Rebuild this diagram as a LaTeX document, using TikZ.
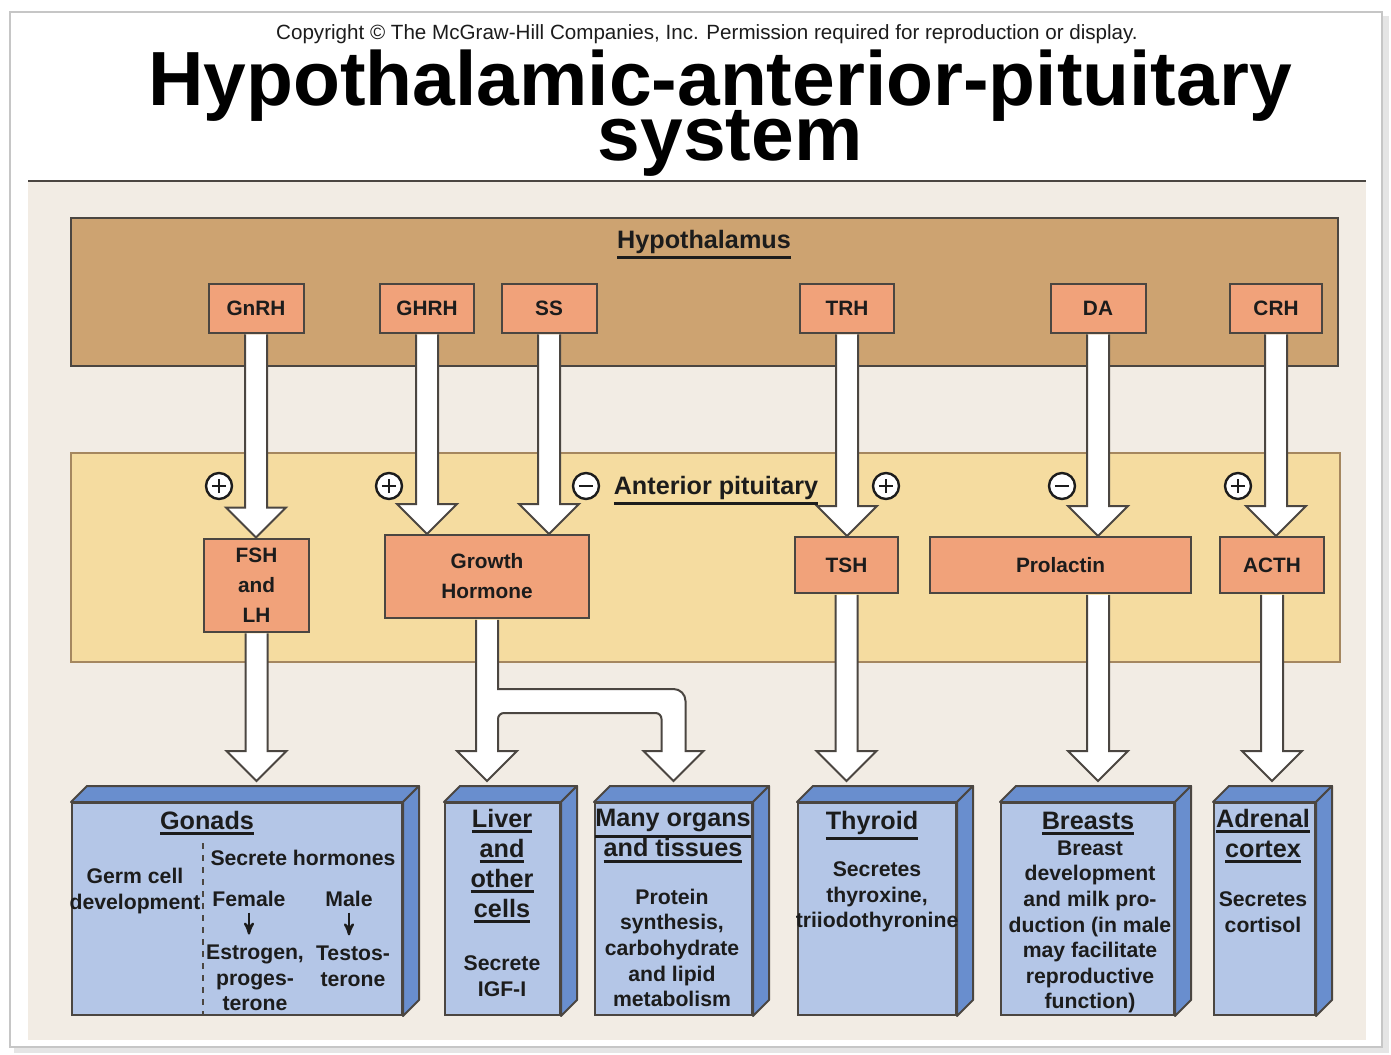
\documentclass[tikz,border=0pt]{standalone}
\usepackage{fontspec}
\setmainfont{Liberation Sans}
\usetikzlibrary{arrows,calc}
\definecolor{hypo}{RGB}{205,163,113}
\definecolor{pitu}{RGB}{245,220,160}
\definecolor{pitul}{RGB}{165,135,95}
\definecolor{paper}{RGB}{242,236,228}
\definecolor{salmon}{RGB}{241,162,122}
\definecolor{bluef}{RGB}{180,198,231}
\definecolor{blues}{RGB}{105,142,206}
\definecolor{linec}{RGB}{75,70,65}
\definecolor{ink}{RGB}{28,28,28}
\newcommand\fs[2]{\fontsize{#1}{#2}\selectfont}
\newcommand\tightlines{\lineskiplimit=-50pt\relax}
\newcommand\ul[1]{\vtop{\hbox{#1}\kern1.6pt\hrule height 1.4pt}}
% white block arrow, straight down from #1 to #2
\newcommand\hollowarrow[2]{%
  \path[hollow] let \p1=(#1), \p2=(#2) in
    (\x1-5.5pt,\y1-0.4pt) -- (\x1-5.5pt,\y2+15pt) -- (\x1-15pt,\y2+15pt) -- (\x1,\y2)
    -- (\x1+15pt,\y2+15pt) -- (\x1+5.5pt,\y2+15pt) -- (\x1+5.5pt,\y1-0.4pt);}
% top and right faces of an organ box
\newcommand\sides[1]{%
  \filldraw[organside] (#1.north west) -- ([shift={(8pt,8pt)}]#1.north west)
    -- ([shift={(8pt,8pt)}]#1.north east) -- (#1.north east) -- cycle;
  \filldraw[organside] (#1.north east) -- ([shift={(8pt,8pt)}]#1.north east)
    -- ([shift={(8pt,8pt)}]#1.south east) -- (#1.south east) -- cycle;
  \coordinate (#1-in) at ([yshift=10.5pt]#1.north);}

\begin{document}
\begin{tikzpicture}[x=0.5pt,y=-0.5pt,
  hbox/.style={draw=linec, fill=salmon, line width=1pt, inner sep=0pt, align=center,
    text=ink, font=\bfseries\fs{10.4}{15}, minimum height=28pt},
  organ/.style={draw=linec, fill=bluef, line width=1pt, inner sep=0pt, minimum height=106pt},
  organside/.style={draw=linec, fill=blues, line width=1pt, line join=round},
  txt/.style={align=center, text=ink, inner sep=0pt, font=\bfseries\fs{10.6}{12.8}},
  head/.style={align=center, text=ink, inner sep=0pt, font=\bfseries\fs{12.6}{15}},
  hollow/.style={draw=linec, fill=white, line width=1pt, line join=miter},
  small arrow/.style={-stealth', ink, line width=1.1pt, shorten <=3pt, shorten >=5pt},
  sign/.style={circle, draw=ink, fill=white, line width=1.2pt, minimum size=13pt, inner sep=0pt},
  plus/.style={sign, path picture={
    \draw[line width=1.2pt] ([xshift=-3.6pt]path picture bounding box.center)
      -- ([xshift=3.6pt]path picture bounding box.center)
      ([yshift=-3.6pt]path picture bounding box.center)
      -- ([yshift=3.6pt]path picture bounding box.center);}},
  minus/.style={sign, path picture={
    \draw[line width=1.2pt] ([xshift=-3.6pt]path picture bounding box.center)
      -- ([xshift=3.6pt]path picture bounding box.center);}}]
\useasboundingbox (0,0) rectangle (1391,1054);
\fill[white] (0,0) rectangle (1391,1054);
\draw[gray!20, line width=3pt] (14,1050) -- (1386,1050) -- (1386,16);
\draw[gray!45, line width=1.2pt] (10,12) rectangle (1382,1047);

% title
\node[font=\fs{10.3}{12}, text=ink, anchor=base, inner sep=0pt] (copy) at (707,40)
  {Copyright \textcopyright\ The McGraw-Hill Companies, Inc. Permission required for reproduction or display.};
\node[font=\bfseries\fs{38.4}{27.5}\tightlines, align=center, inner sep=0pt] (title) at (720,113)
  {Hypothalamic-anterior-pituitary\\\kern10pt system};

% panels
\fill[paper] (28,182) rectangle (1366,1040);
\draw[linec, line width=1pt] (28,181) -- (1366,181);
\draw[fill=hypo, draw=linec, line width=1pt] (71,218) rectangle (1338,366);
\draw[fill=pitu, draw=pitul, line width=1pt] (71,453) rectangle (1340,662);
\node[head, anchor=base] (hyp) at (704,248) {\ul{Hypothalamus}};
\node[head, anchor=base] (ant) at (716,494) {\ul{Anterior pituitary}};

% releasing hormones
\node[hbox, minimum width=47.5pt, minimum height=24.5pt] (gnrh) at (256,308) {GnRH};
\node[hbox, minimum width=47pt, minimum height=24.5pt] (ghrh) at (427,308) {GHRH};
\node[hbox, minimum width=47.5pt, minimum height=24.5pt] (ss) at (549,308) {SS};
\node[hbox, minimum width=47pt, minimum height=24.5pt] (trh) at (847,308) {TRH};
\node[hbox, minimum width=47.5pt, minimum height=24.5pt] (da) at (1098,308) {DA};
\node[hbox, minimum width=46pt, minimum height=24.5pt] (crh) at (1276,308) {CRH};

% pituitary hormones
\node[hbox, minimum width=52.5pt, minimum height=46.5pt] (fsh) at (256.5,585) {FSH\\and\\LH};
\node[hbox, minimum width=102pt, minimum height=41.5pt] (gh) at (487,576.5) {Growth\\Hormone};
\node[hbox, minimum width=51.5pt] (tsh) at (846.5,565) {TSH};
\node[hbox, minimum width=130.5pt] (prl) at (1060.5,565) {Prolactin};
\node[hbox, minimum width=52pt] (acth) at (1272,565) {ACTH};

% targets
\node[organ, minimum width=165pt] (gon) at (237,909) {};
\sides{gon}
\node[organ, minimum width=57.5pt] (liv) at (502.5,909) {};
\sides{liv}
\node[organ, minimum width=78.5pt] (org) at (673.5,909) {};
\sides{org}
\node[organ, minimum width=79pt] (thy) at (877,909) {};
\sides{thy}
\node[organ, minimum width=86.5pt] (brs) at (1087.5,909) {};
\sides{brs}
\node[organ, minimum width=50.5pt] (adr) at (1264.5,909) {};
\sides{adr}

% arrows
\hollowarrow{gnrh.south}{fsh.north}
\hollowarrow{ghrh.south}{gh.north}
\hollowarrow{ss.south}{gh.north}
\hollowarrow{trh.south}{tsh.north}
\hollowarrow{da.south}{prl.north}
\hollowarrow{crh.south}{acth.north}
\hollowarrow{fsh.south}{gon-in}
\hollowarrow{tsh.south}{thy-in}
\hollowarrow{prl.south -| da.south}{brs-in}
\hollowarrow{acth.south}{adr-in}
\path[hollow] let \p1=(gh.south), \p2=(liv-in), \p3=(org-in) in
  (\x1-5.5pt,\y1-0.4pt) -- (\x1-5.5pt,\y2+15pt) -- (\x1-15pt,\y2+15pt) -- (\x1,\y2)
  -- (\x1+15pt,\y2+15pt) -- (\x1+5.5pt,\y2+15pt) -- (\x1+5.5pt,\y1-50pt)
  arc[start angle=180, end angle=90, radius=3pt] -- (\x3-9pt,\y1-47pt)
  arc[start angle=90, end angle=0, radius=3pt] -- (\x3-6pt,\y3+15pt)
  -- (\x3-15pt,\y3+15pt) -- (\x3,\y3) -- (\x3+15pt,\y3+15pt) -- (\x3+6pt,\y3+15pt)
  -- (\x3+6pt,\y1-41pt) arc[start angle=0, end angle=90, radius=6pt]
  -- (\x1+5.5pt,\y1-35pt) -- (\x1+5.5pt,\y1-0.4pt);

% stimulation / inhibition
\node[plus] (s1) at (219,486) {};
\node[plus] (s2) at (389,486) {};
\node[minus] (s3) at (586,486) {};
\node[plus] (s4) at (886,486) {};
\node[minus] (s5) at (1062,486) {};
\node[plus] (s6) at (1238,486) {};

% gonads
\node[head, anchor=base] (gon-h) at (207,829) {\ul{Gonads}};
\draw[linec, dashed, line width=0.8pt] (203,843) -- (203,1015);
\node[txt, anchor=base] (gon-sec) at (303,865) {Secrete hormones};
\node[txt] (gon-germ) at (135,891) {Germ cell\\development};
\node[txt, anchor=base] (gon-fem) at (249,906) {Female};
\node[txt, anchor=base] (gon-male) at (349,906) {Male};
\node[txt] (gon-est) at (255,978) {Estrogen,\\proges-\\terone};
\node[txt] (gon-tes) at (353,966) {Testos-\\terone};
\draw[small arrow] (gon-fem.south) -- (gon-fem.south |- gon-est.north);
\draw[small arrow] (gon-male.south) -- (gon-male.south |- gon-tes.north);

% other targets
\node[head] (liv-h) at (502,866) {\ul{Liver}\\\ul{and}\\\ul{other}\\\ul{cells}};
\node[txt] (liv-t) at (502,976) {Secrete\\IGF-I};
\node[head] (org-h) at (673,836) {\ul{Many organs}\\\ul{and tissues}};
\node[txt] (org-t) at (672,948) {Protein\\synthesis,\\carbohydrate\\and lipid\\metabolism};
\node[head, anchor=base] (thy-h) at (872,829) {\ul{Thyroid}};
\node[txt] (thy-t) at (877,897) {Secretes\\thyroxine,\\triiodothyronine};
\node[head, anchor=base] (brs-h) at (1088,829) {\ul{Breasts}};
\node[txt] (brs-t) at (1090,927) {Breast\\development\\and milk pro-\\duction (in male\\may facilitate\\reproductive\\function)};
\node[head] (adr-h) at (1263,836) {\ul{Adrenal}\\\ul{cortex}};
\node[txt] (adr-t) at (1263,912) {Secretes\\cortisol};
\end{tikzpicture}
\end{document}
